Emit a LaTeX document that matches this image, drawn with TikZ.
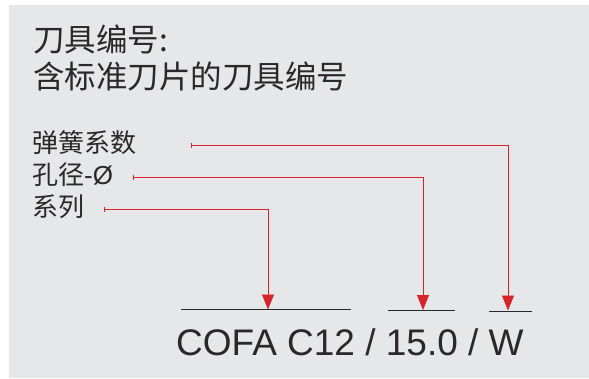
\documentclass[tikz,border=0pt]{standalone}
\usepackage{fontspec}
\setmainfont{Liberation Sans}
\newfontfamily\cjk{Noto Sans CJK SC}
\usetikzlibrary{arrows.meta}
\definecolor{bggray}{HTML}{E6E7E8}
\definecolor{leadred}{HTML}{D7242B}
\definecolor{ink}{HTML}{2B2829}
\tikzset{
  headtext/.style={anchor=base west,inner sep=0pt,text=ink,font=\cjk\fontsize{31.5}{36}\selectfont},
  labeltext/.style={anchor=base west,inner sep=0pt,text=ink,font=\cjk\fontsize{26}{30}\selectfont},
  codetext/.style={anchor=base west,inner sep=0pt,text=ink,font=\fontsize{37}{44}\selectfont},
  leader/.style={draw=leadred,line width=0.8pt,{Bar[width=5pt,line width=0.8pt]}-{Triangle[width=12pt,length=15pt]}},
  underline/.style={draw=ink,line width=1pt}
}
\begin{document}
\begin{tikzpicture}[x=1pt,y=-1pt]
\useasboundingbox (0,0) rectangle (589,378);
\fill[white] (0,0) rectangle (589,378);
\fill[bggray] (9,5) rectangle (589,378);
% heading
\node[headtext] (h1) at (33,51.5) {刀具编号:};
\node[headtext] (h2) at (33,88.5) {含标准刀片的刀具编号};
% labels
\node[labeltext] (l1) at (32,152) {弹簧系数};
\node[labeltext] (l2) at (32,184) {孔径{\fontspec{Liberation Sans}-Ø}};
\node[labeltext] (l3) at (32,216) {系列};
% code
\node[codetext] (code) at (176,355.5) {COFA C12 / 15.0 / W};
% underlines
\coordinate (u1a) at (181,309.5);
\coordinate (u1b) at (351,309.5);
\coordinate (u2a) at (388,310.5);
\coordinate (u2b) at (455,310.5);
\coordinate (u3a) at (489,311);
\coordinate (u3b) at (532,311);
\draw[underline] (u1a) -- (u1b);
\draw[underline] (u2a) -- (u2b);
\draw[underline] (u3a) -- (u3b);
% leader start points and targets
\coordinate (s1) at (191,145.7);
\coordinate (t1) at (508,310.5);
\coordinate (s2) at (133,177.3);
\coordinate (t2) at (423,310);
\coordinate (s3) at (104,209);
\coordinate (t3) at (268,309.5);
\draw[leader] (s1) -| (t1);
\draw[leader] (s2) -| (t2);
\draw[leader] (s3) -| (t3);
\end{tikzpicture}
\end{document}
